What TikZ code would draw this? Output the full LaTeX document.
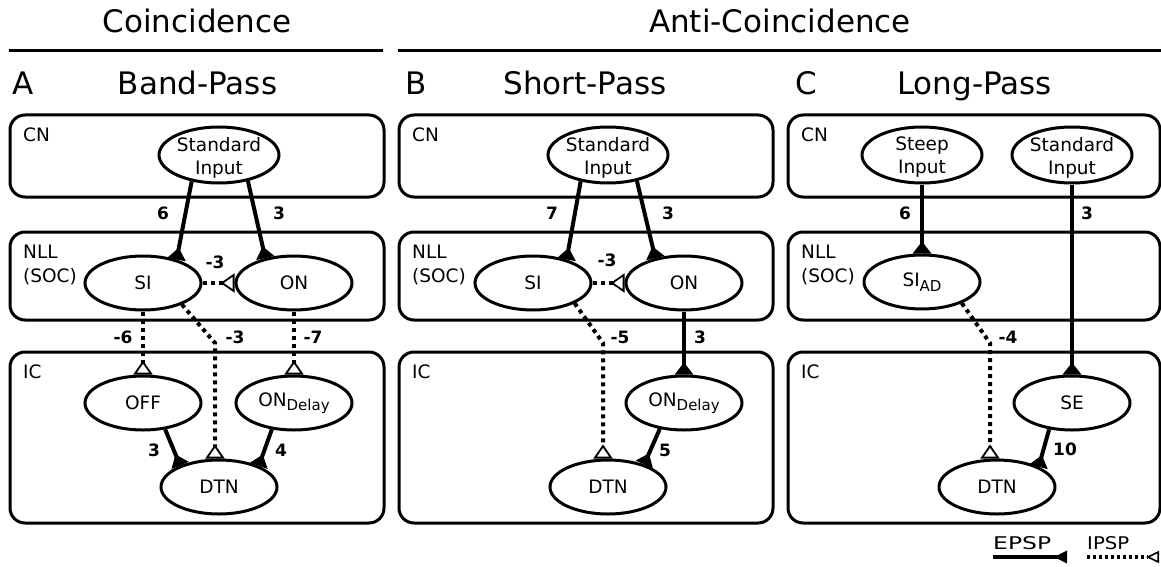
\documentclass[tikz,border=0pt]{standalone}
\usepackage{graphicx}
\usepackage{fontspec}
\setmainfont{DejaVu Sans}
\usetikzlibrary{arrows.meta,shapes.geometric}
\tikzset{
  box/.style={draw, line width=3pt, rounded corners=15pt},
  cell/.style={draw, ellipse, line width=3pt, minimum width=116pt, minimum height=54pt, inner sep=0pt},
  inp/.style={cell, minimum width=120pt, minimum height=56pt},
  nt/.style={font=\fontsize{18.5}{23}\selectfont, align=center, inner sep=0pt},
  nt2/.style={nt, yshift=-2.5pt},
  wt/.style={font=\fontsize{17}{17}\selectfont\bfseries, inner sep=0pt},
  lyr/.style={font=\fontsize{18.5}{23}\selectfont, anchor=base west, inner sep=0pt},
  ttl/.style={font=\fontsize{31}{31}\selectfont, anchor=base, inner sep=0pt},
  rule/.style={line width=3pt},
  exc/.style={line width=4pt, -{Triangle[reversed, length=12pt, width=18pt]}},
  inh/.style={line width=4pt, dash pattern=on 4pt off 4pt, -{Triangle[reversed, open, length=14pt, width=19pt, line width=1.8pt]}},
  excl/.style={line width=4pt, -{Triangle[reversed, length=13pt, width=12pt]}},
  inhl/.style={line width=4pt, dash pattern=on 3pt off 3pt, -{Triangle[reversed, open, length=13pt, width=12pt, line width=1.6pt]}},
}
\newcommand{\subtxt}[1]{\raisebox{-4.5pt}{\fontsize{15}{15}\selectfont #1}}
\begin{document}
\begin{tikzpicture}[x=1pt,y=-1pt]
\useasboundingbox (0,0) rectangle (1161,567);

% titles
\node[ttl] (tco) at (197,33) {Coincidence};
\node[ttl] (tanti) at (780,33) {Anti-Coincidence};
\coordinate (r1a) at (9,51); \coordinate (r1b) at (383,51);
\coordinate (r2a) at (398,51); \coordinate (r2b) at (1161,51);
\draw[rule] (r1a) -- (r1b);
\draw[rule] (r2a) -- (r2b);
\node[ttl, anchor=base west] (la) at (12,95) {A};
\node[ttl] (ta) at (197.5,95) {Band-Pass};
\node[ttl, anchor=base west] (lb) at (405,95) {B};
\node[ttl] (tb) at (585,95) {Short-Pass};
\node[ttl, anchor=base west] (lc) at (795,95) {C};
\node[ttl] (tc) at (974.5,95) {Long-Pass};

% layer boxes
\foreach \L/\R/\p in {10/384/a, 399/773/b, 788/1160/c}{
  \draw[box] (\L,115) rectangle (\R,197);
  \draw[box] (\L,232) rectangle (\R,320);
  \draw[box] (\L,352) rectangle (\R,523);
  \node[lyr] (cn\p) at (\L+13,141) {CN};
  \node[lyr] (nll\p) at (\L+13,258) {NLL};
  \node[lyr] (soc\p) at (\L+13,282) {(SOC)};
  \node[lyr] (ic\p) at (\L+13,378) {IC};
}

% ---------- Panel A ----------
\node[inp, label={[nt2]center:{Standard\\Input}}] (stdA) at (219,155) {};
\node[cell, label={[nt]center:SI}] (siA) at (143,283) {};
\node[cell, label={[nt]center:ON}] (onA) at (294,283) {};
\node[cell, label={[nt]center:OFF}] (offA) at (143,403) {};
\node[cell, label={[nt]center:{ON\subtxt{Delay}}}] (ondA) at (294,403) {};
\node[cell, label={[nt]center:DTN}] (dtnA) at (219,487) {};
\coordinate (bA) at (215,343);

\draw[exc] (stdA.224) -- (siA.35);
\draw[exc] (stdA.318) -- (onA.139);
\draw[inh] (siA.east) -- (onA.west);
\draw[inh] (siA.south) -- (offA.north);
\draw[inh] (siA.331) -- (bA) -- (bA |- dtnA.north);
\draw[inh] (onA.south) -- (ondA.north);
\draw[exc] (offA.310) -- (dtnA.151);
\draw[exc] (ondA.230) -- (dtnA.28);

\node[wt] (wa1) at (163,213) {6};
\node[wt] (wa2) at (279,213) {3};
\node[wt] (wa3) at (215,262) {-3};
\node[wt] (wa4) at (123,337) {-6};
\node[wt] (wa5) at (235,337) {-3};
\node[wt] (wa6) at (313,337) {-7};
\node[wt] (wa7) at (154,450) {3};
\node[wt] (wa8) at (281,450) {4};

% ---------- Panel B ----------
\node[inp, label={[nt2]center:{Standard\\Input}}] (stdB) at (608,155) {};
\node[cell, label={[nt]center:SI}] (siB) at (533,283) {};
\node[cell, label={[nt]center:ON}] (onB) at (684,283) {};
\node[cell, label={[nt]center:{ON\subtxt{Delay}}}] (ondB) at (684,403) {};
\node[cell, label={[nt]center:DTN}] (dtnB) at (608,487) {};
\coordinate (bB) at (603,343);

\draw[exc] (stdB.224) -- (siB.35);
\draw[exc] (stdB.318) -- (onB.139);
\draw[inh] (siB.east) -- (onB.west);
\draw[inh] (siB.334) -- (bB) -- (bB |- dtnB.north);
\draw[exc] (onB.south) -- (ondB.north);
\draw[exc] (ondB.227) -- (dtnB.32);

\node[wt] (wb1) at (552,213) {7};
\node[wt] (wb2) at (668,213) {3};
\node[wt] (wb3) at (607,260) {-3};
\node[wt] (wb4) at (620,337) {-5};
\node[wt] (wb5) at (700,337) {3};
\node[wt] (wb6) at (665,450) {5};

% ---------- Panel C ----------
\node[inp, label={[nt2]center:{Steep\\Input}}] (steepC) at (922,155) {};
\node[inp, label={[nt2]center:{Standard\\Input}}] (stdC) at (1072,155) {};
\node[cell, label={[nt]center:{SI\subtxt{AD}}}] (siadC) at (922,282) {};
\node[cell, label={[nt]center:SE}] (seC) at (1072,403) {};
\node[cell, label={[nt]center:DTN}] (dtnC) at (997,487) {};
\coordinate (bC) at (990,343);

\draw[exc] (steepC.south) -- (siadC.north);
\draw[exc] (stdC.south) -- (seC.north);
\draw[inh] (siadC.332) -- (bC) -- (bC |- dtnC.north);
\draw[exc] (seC.229) -- (dtnC.26);

\node[wt] (wc1) at (905,213) {6};
\node[wt] (wc2) at (1087,213) {3};
\node[wt] (wc3) at (1008,337) {-4};
\node[wt] (wc4) at (1065,449) {10};

% ---------- Legend ----------
\node[anchor=base west, inner sep=0pt] (epsp) at (993,549) {\resizebox{58pt}{13pt}{EPSP}};
\node[anchor=base west, inner sep=0pt] (ipsp) at (1087,549) {\resizebox{42pt}{13pt}{IPSP}};
\coordinate (e1) at (993,557); \coordinate (e2) at (1067,557);
\coordinate (i1) at (1087,557); \coordinate (i2) at (1159,557);
\draw[excl] (e1) -- (e2);
\draw[inhl] (i1) -- (i2);
\end{tikzpicture}
\end{document}
